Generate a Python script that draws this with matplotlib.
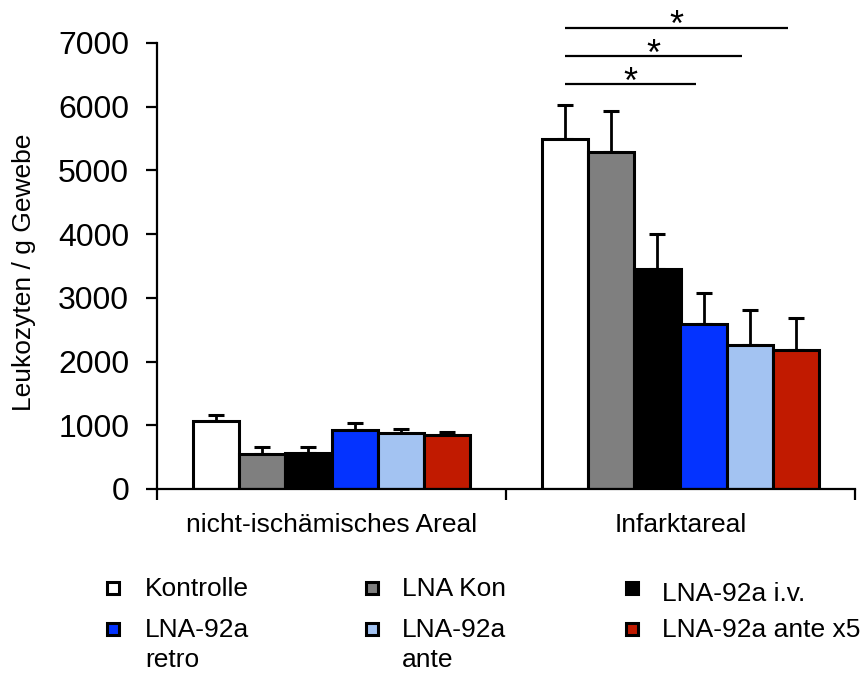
import matplotlib
matplotlib.use("Agg")
import matplotlib.pyplot as plt
from matplotlib.patches import Rectangle
import numpy as np

plt.rcParams['font.family'] = ['Liberation Sans', 'DejaVu Sans']

categories = ["nicht-ischämisches Areal", "Infarktareal"]
series = ["Kontrolle", "LNA Kon", "LNA-92a i.v.", "LNA-92a\nretro", "LNA-92a\nante", "LNA-92a ante x5"]
colors = ["#FFFFFF", "#7F7F7F", "#000000", "#0433FF", "#A3C3F2", "#C11A00"]
means = {
    "Kontrolle":       [1070, 5490],
    "LNA Kon":         [545, 5290],
    "LNA-92a i.v.":    [570, 3460],
    "LNA-92a\nretro":  [930, 2590],
    "LNA-92a\nante":   [880, 2260],
    "LNA-92a ante x5": [850, 2180],
}
errors = {
    "Kontrolle":       [90, 540],
    "LNA Kon":         [120, 650],
    "LNA-92a i.v.":    [90, 540],
    "LNA-92a\nretro":  [100, 490],
    "LNA-92a\nante":   [60, 550],
    "LNA-92a ante x5": [40, 500],
}
yticks = [0, 1000, 2000, 3000, 4000, 5000, 6000, 7000]
# significance comparisons in Infarktareal: (series index a, series index b, level)
sig_pairs = [(0, 3, 6350), (0, 4, 6790), (0, 5, 7240)]

W, H = 866, 677
fig = plt.figure(figsize=(W / 100, H / 100), dpi=100)
ax = fig.add_axes([157 / W, 1 - 489 / H, (855 - 157) / W, (489 - 43) / H])

x = np.arange(len(categories))
group_w = 0.795
bw = group_w / len(series)
offsets = (np.arange(len(series)) - (len(series) - 1) / 2) * bw
for i, s in enumerate(series):
    ax.bar(x + offsets[i], means[s], width=bw, color=colors[i], edgecolor="black",
           linewidth=2.2, zorder=2)
    ax.errorbar(x + offsets[i], means[s], yerr=[np.zeros(len(x)), errors[s]], fmt="none",
                ecolor="black", elinewidth=2.0, capsize=5.5, capthick=2.2, zorder=1)

for a, b, y in sig_pairs:
    xa = x[1] + offsets[a]
    xb = x[1] + offsets[b] - 0.022
    ax.plot([xa, xb], [y, y], color="black", lw=1.6, clip_on=False, solid_capstyle="butt")
    ax.text((xa + xb) / 2, y - 255, "*", ha="center", va="bottom", fontsize=26, clip_on=False)

ax.set_xlim(-0.5, 1.5)
ax.set_ylim(0, 7000)
ax.set_yticks(yticks)
ax.set_yticklabels([str(v) for v in yticks], fontsize=23)
ax.set_xticks([-0.5, 0.5, 1.5])
ax.set_xticklabels(["", "", ""])
ax.set_xticks(x, minor=True)
ax.set_xticklabels(categories, minor=True, fontsize=19)
ax.tick_params(axis="x", which="minor", length=0, pad=17)
ax.tick_params(axis="both", which="major", length=8, width=1.6, direction="out")
ax.tick_params(axis="y", pad=12)
for sp in ["top", "right"]:
    ax.spines[sp].set_visible(False)
for sp in ["left", "bottom"]:
    ax.spines[sp].set_linewidth(1.6)
ax.set_ylabel("Leukozyten / g Gewebe", fontsize=19)
ax.yaxis.set_label_coords((36 - 157) / (855 - 157), (489 - 272) / (489 - 43))

# legend (manual layout, 3 columns x 2 rows)
marker_x = [112.5, 372, 632]
text_x = [145, 402, 662]
row_y = [588, 629]
text_y = [[592, 592, 597], [633, 633, 633]]
for i, s in enumerate(series):
    r, c = divmod(i, 3)
    mx, my = marker_x[c], row_y[r]
    fig.patches.append(Rectangle(((mx - 6) / W, 1 - (my + 6) / H), 12 / W, 12 / H,
                                 transform=fig.transFigure, facecolor=colors[i],
                                 edgecolor="black", linewidth=2.2))
    fig.text(text_x[c] / W, 1 - (text_y[r][c] - 15) / H, s, ha="left", va="top", fontsize=19,
             linespacing=1.3)

fig.savefig("out.png", dpi=100)
